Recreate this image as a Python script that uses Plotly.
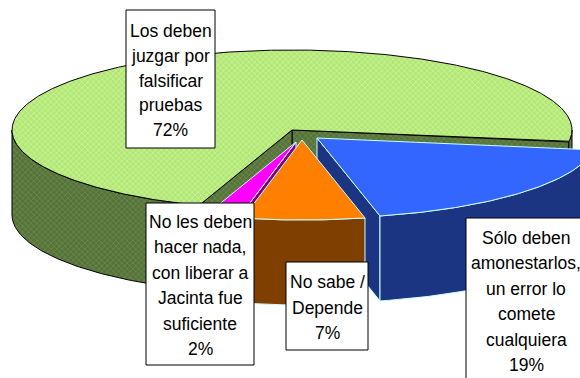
import numpy as np
import plotly.graph_objects as go

# --- data -------------------------------------------------------------
categories = [
    "Los deben juzgar por falsificar pruebas",
    "Sólo deben amonestarlos, un error lo comete cualquiera",
    "No sabe / Depende",
    "No les deben hacer nada, con liberar a Jacinta fue suficiente",
]
values = [72, 19, 7, 2]
label_lines = [
    ["Los deben", "juzgar por", "falsificar", "pruebas"],
    ["Sólo deben", "amonestarlos,", "un error lo", "comete", "cualquiera"],
    ["No sabe /", "Depende"],
    ["No les deben", "hacer nada,", "con liberar a", "Jacinta fue", "suficiente"],
]

# --- styling / geometry of the 3-D pie ---------------------------------
W, H = 580, 378
CX, CY = 292, 130          # centre of the top ellipse
RX, RY = 280, 80           # ellipse radii
DEPTH = 85                 # thickness of the pie
START = 250.6              # first slice edge (deg, slices run clockwise)
explode = [(0, 0), (25, 8), (10, 10), (4, 12)]
draw_order = [0, 1, 3, 2]

top_colors = ["#b9e87f", "#3366ff", "#ff8000", "#ff00ff"]
side_colors = ["#5b7a3b", "#1c3582", "#7f3f00", "#800080"]
edge_colors = ["#000000", "#ccffff", "#ccffff", "#ccffff"]
patterns = [
    (dict(shape="x", bgcolor="#b3e675", fgcolor="#dcffb8", size=4, solidity=0.4),
     dict(shape="x", bgcolor="#55733a", fgcolor="#7f9c5c", size=4, solidity=0.4)),
    (None, None),
    (None, None),
    (None, None),
]

# label boxes: x0, x1, y0, y1, first text line y, line step
boxes = [
    (126, 215, 10, 148, 31, 24.8),
    (466, 592, 218, 392, 238, 25.4),
    (286, 368, 262, 350, 282, 25.5),
    (146, 254, 203, 365, 222, 25.4),
]
FONT = dict(family="Liberation Sans, Arial, sans-serif", size=17.5, color="#000000")

# --- build slices ------------------------------------------------------
total = float(sum(values))
cum = np.concatenate([[0], np.cumsum(values)])


def rim(cx, cy, th_deg, dz=0.0):
    t = np.radians(th_deg)
    return cx + RX * np.cos(t), cy - RY * np.sin(t) + dz


def arc(cx, cy, a0, a1, dz=0.0, n=None):
    n = n or max(2, int(abs(a1 - a0) * 2))
    th = np.linspace(a0, a1, n)
    return rim(cx, cy, th, dz)


fig = go.Figure()


def add_poly(xs, ys, fill, line, pattern=None):
    kw = dict(
        x=list(xs) + [xs[0]], y=list(ys) + [ys[0]],
        mode="lines", fill="toself", fillcolor=fill,
        line=dict(color=line, width=1), hoverinfo="skip", showlegend=False,
    )
    if pattern is not None:
        kw["fillpattern"] = pattern
    fig.add_trace(go.Scatter(**kw))


for i in draw_order:
    hi = START - 360.0 * cum[i] / total
    lo = hi - 360.0 * values[i] / total
    ox, oy = explode[i]
    cx, cy = CX + ox, CY + oy
    top_pat, side_pat = patterns[i]

    # cut faces that turn towards the viewer
    for edge, visible in ((lo, np.cos(np.radians(lo)) > 0),
                          (hi, np.cos(np.radians(hi)) < 0)):
        if visible:
            ex, ey = rim(cx, cy, edge)
            add_poly([cx, ex, ex, cx], [cy, ey, ey + DEPTH, cy + DEPTH],
                     side_colors[i], edge_colors[i], side_pat)

    # outer wall: only the front half of the rim is seen
    for k in range(-2, 2):
        f0, f1 = 180 + 360 * k, 360 + 360 * k
        a0, a1 = max(lo, f0), min(hi, f1)
        if a1 > a0:
            tx, ty = arc(cx, cy, a0, a1)
            bx, by = arc(cx, cy, a1, a0, DEPTH)
            add_poly(np.concatenate([tx, bx]), np.concatenate([ty, by]),
                     side_colors[i], edge_colors[i], side_pat)

    # top face
    tx, ty = arc(cx, cy, lo, hi)
    add_poly(np.concatenate([[cx], tx]), np.concatenate([[cy], ty]),
             top_colors[i], edge_colors[i], top_pat)

# --- labels ------------------------------------------------------------
for i, (x0, x1, y0, y1, ly, step) in enumerate(boxes):
    fig.add_shape(type="rect", xref="x", yref="y", x0=x0, x1=x1, y0=y0, y1=y1,
                  fillcolor="#ffffff", line=dict(color="#000000", width=1),
                  layer="above")
    lines = label_lines[i] + [f"{values[i]}%"]
    xc = (x0 + min(x1, 586)) / 2.0 if i == 1 else (x0 + x1) / 2.0
    for j, txt in enumerate(lines):
        fig.add_annotation(x=xc, y=ly + j * step, xref="x", yref="y",
                           text=txt, showarrow=False, font=FONT,
                           xanchor="center", yanchor="middle")

fig.update_layout(
    width=W, height=H,
    margin=dict(l=0, r=0, t=0, b=0),
    paper_bgcolor="#ffffff", plot_bgcolor="#ffffff",
    xaxis=dict(range=[0, W], visible=False, fixedrange=True),
    yaxis=dict(range=[H, 0], visible=False, fixedrange=True),
    showlegend=False,
)

fig.write_html("out.html")
